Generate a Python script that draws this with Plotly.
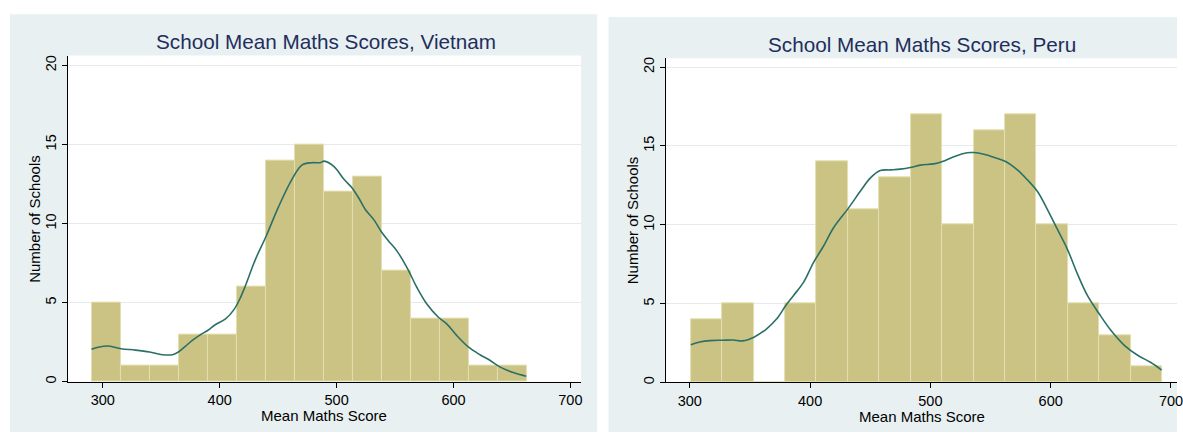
import plotly.graph_objects as go

W, H = 1183, 434

# ---------------- data ----------------
x_tick_vals = [300, 400, 500, 600, 700]
y_tick_vals = [0, 5, 10, 15, 20]

vn_title = "School Mean Maths Scores, Vietnam"
pe_title = "School Mean Maths Scores, Peru"
x_title = "Mean Maths Score"
y_title = "Number of Schools"

vn_bin_start = 290.4
vn_bin_width = 24.83
vn_counts = [5, 1, 1, 3, 3, 6, 14, 15, 12, 13, 7, 4, 4, 1, 1]

vn_kde_x = [290.4, 296, 305, 315.6, 328, 340, 351, 359.6, 364.7, 370, 376.6, 383,
            389.7, 396.5, 405, 412.2, 417, 422, 430.6, 439.7, 450.5, 461.8, 470.3,
            478.9, 486, 489.4, 497.8, 506.3, 513.4, 519.1, 524.7, 531.8, 538.9,
            544.6, 551.7, 560.2, 568.7, 577.2, 587.1, 594.2, 602.7, 612.7, 622.6,
            631.1, 639.6, 651, 662.3]
vn_kde_y = [2.05, 2.18, 2.26, 2.09, 2.0, 1.88, 1.71, 1.71, 1.88, 2.2, 2.61, 2.95,
            3.24, 3.62, 3.97, 4.56, 5.2, 6.07, 7.74, 9.2, 11.09, 12.8, 13.7,
            13.85, 13.85, 13.95, 13.6, 12.8, 12.24, 11.6, 10.88, 10.25, 9.42,
            8.89, 8.26, 7.22, 5.96, 4.92, 4.08, 3.66, 2.93, 2.2, 1.71,
            1.36, 0.94, 0.58, 0.35]

pe_bin_start = 300.8
pe_bin_width = 26.13
pe_counts = [4, 5, 0, 5, 14, 11, 13, 17, 10, 16, 17, 10, 5, 3, 1]

pe_kde_x = [300.8, 308.3, 316.7, 327.3, 336.2, 343.9, 353.7, 363.9, 372.3, 379.8,
            386.1, 394.5, 402.8, 411.2, 419.5, 432, 441.7, 450, 458.3, 466.7, 475,
            483.3, 491.7, 502.8, 510, 519.5, 530.6, 536.2, 544.5, 552.8, 562.5,
            572.3, 580.6, 588.9, 597.3, 605.6, 613.9, 622.3, 630.6, 640.3, 650,
            661.2, 672.3, 683.3, 692.2]
pe_kde_y = [2.39, 2.56, 2.65, 2.67, 2.69, 2.63, 2.88, 3.4, 4.03, 4.87,
            5.5, 6.34, 7.6, 8.65, 9.81, 11.07, 12.12, 12.96, 13.44, 13.48, 13.53,
            13.63, 13.78, 13.86, 14.01, 14.32, 14.57, 14.58, 14.47, 14.28, 14.01,
            13.48, 12.85, 12.12, 10.96, 9.7, 8.44, 6.87, 5.5, 4.35, 3.3,
            2.35, 1.72, 1.26, 0.78]

# ---------------- style ----------------
FONT = "Liberation Sans, Arial, Helvetica, sans-serif"
BAR_COLOR = "#CBC384"
BAR_EDGE = "#E4DFB0"
LINE_COLOR = "#2B7067"
PANEL_BG = "#E8F0F2"
GRID = "#E3EBEE"
TITLE_COLOR = "#1F2E5C"


def centers(start, width, n):
    return [start + width * (i + 0.5) for i in range(n)]


fig = go.Figure()

fig.add_trace(go.Bar(
    x=centers(vn_bin_start, vn_bin_width, len(vn_counts)), y=vn_counts,
    width=vn_bin_width, marker=dict(color=BAR_COLOR, line=dict(color=BAR_EDGE, width=1)),
    xaxis="x", yaxis="y", showlegend=False, hoverinfo="x+y"))
fig.add_trace(go.Scatter(
    x=vn_kde_x, y=vn_kde_y, mode="lines", line=dict(color=LINE_COLOR, width=1.6, shape="spline"),
    xaxis="x", yaxis="y", showlegend=False))

fig.add_trace(go.Bar(
    x=centers(pe_bin_start, pe_bin_width, len(pe_counts)), y=pe_counts,
    width=pe_bin_width, marker=dict(color=BAR_COLOR, line=dict(color=BAR_EDGE, width=1)),
    xaxis="x2", yaxis="y2", showlegend=False, hoverinfo="x+y"))
fig.add_trace(go.Scatter(
    x=pe_kde_x, y=pe_kde_y, mode="lines", line=dict(color=LINE_COLOR, width=1.6, shape="spline"),
    xaxis="x2", yaxis="y2", showlegend=False))

# plot-area geometry in pixels
vn_l, vn_r, vn_t, vn_b = 68.3, 584.0, 55.0, 383.4
pe_l, pe_r, pe_t, pe_b = 669.5, 1183.0, 57.7, 384.0


def px(v):
    return v / W


def py(v):
    return 1 - v / H


xcommon = dict(showline=True, linecolor="black", linewidth=1, ticks="outside", ticklen=5,
               tickcolor="black", tickwidth=1, tickvals=x_tick_vals, showgrid=False,
               zeroline=False, ticklabeloverflow="allow",
               tickfont=dict(family=FONT, size=14.5, color="black"))
ycommon = dict(showline=True, linecolor="black", linewidth=1, ticks="outside", ticklen=5,
               tickcolor="black", tickwidth=1, tickvals=y_tick_vals, showgrid=True,
               gridcolor=GRID, gridwidth=1, zeroline=False, tickangle=-90,
               tickfont=dict(family=FONT, size=14.5, color="black"))

fig.update_layout(
    width=W, height=H, margin=dict(l=0, r=0, t=0, b=0),
    paper_bgcolor="white", plot_bgcolor="rgba(0,0,0,0)",
    bargap=0, barmode="overlay", showlegend=False,
    xaxis=dict(domain=[px(vn_l), px(vn_r)], range=[270.2, 709.1], anchor="y", **xcommon),
    yaxis=dict(domain=[py(vn_b), py(vn_t)], range=[0, 20.62], anchor="x", **ycommon),
    xaxis2=dict(domain=[px(pe_l), px(pe_r)], range=[280.3, 705.0], anchor="y2", **xcommon),
    yaxis2=dict(domain=[py(pe_b), py(pe_t)], range=[0, 20.56], anchor="x2", **ycommon),
)

shapes = [
    dict(type="rect", xref="paper", yref="paper", x0=px(10), x1=px(600), y0=0, y1=py(13.3),
         fillcolor=PANEL_BG, line=dict(width=0), layer="below"),
    dict(type="rect", xref="paper", yref="paper", x0=px(611.7), x1=1, y0=0, y1=py(16),
         fillcolor=PANEL_BG, line=dict(width=0), layer="below"),
    dict(type="rect", xref="paper", yref="paper", x0=px(vn_l), x1=px(vn_r), y0=py(vn_b), y1=py(vn_t),
         fillcolor="white", line=dict(width=0), layer="below"),
    dict(type="rect", xref="paper", yref="paper", x0=px(pe_l), x1=px(pe_r), y0=py(pe_b), y1=py(pe_t),
         fillcolor="white", line=dict(width=0), layer="below"),
]
fig.update_layout(shapes=shapes)

annotations = [
    dict(text=vn_title, x=px(327.4), y=py(41.0), xref="paper", yref="paper", showarrow=False,
         xanchor="center", yanchor="middle", font=dict(family=FONT, size=20.7, color=TITLE_COLOR)),
    dict(text=pe_title, x=px(927), y=py(43.8), xref="paper", yref="paper", showarrow=False,
         xanchor="center", yanchor="middle", font=dict(family=FONT, size=20.7, color=TITLE_COLOR)),
    dict(text=x_title, x=px(326), y=py(417.5), xref="paper", yref="paper", showarrow=False,
         xanchor="center", yanchor="middle", font=dict(family=FONT, size=15, color="black")),
    dict(text=x_title, x=px(927), y=py(418), xref="paper", yref="paper", showarrow=False,
         xanchor="center", yanchor="middle", font=dict(family=FONT, size=15, color="black")),
    dict(text=y_title, x=px(34.5), y=py(219), xref="paper", yref="paper", showarrow=False,
         textangle=-90, xanchor="center", yanchor="middle", font=dict(family=FONT, size=15, color="black")),
    dict(text=y_title, x=px(636), y=py(221), xref="paper", yref="paper", showarrow=False,
         textangle=-90, xanchor="center", yanchor="middle", font=dict(family=FONT, size=15, color="black")),
]
fig.update_layout(annotations=annotations)

fig.write_html(
    "out.html",
    config={"displayModeBar": False},
    post_script="document.body.style.margin='0';document.body.style.overflow='hidden';",
)
